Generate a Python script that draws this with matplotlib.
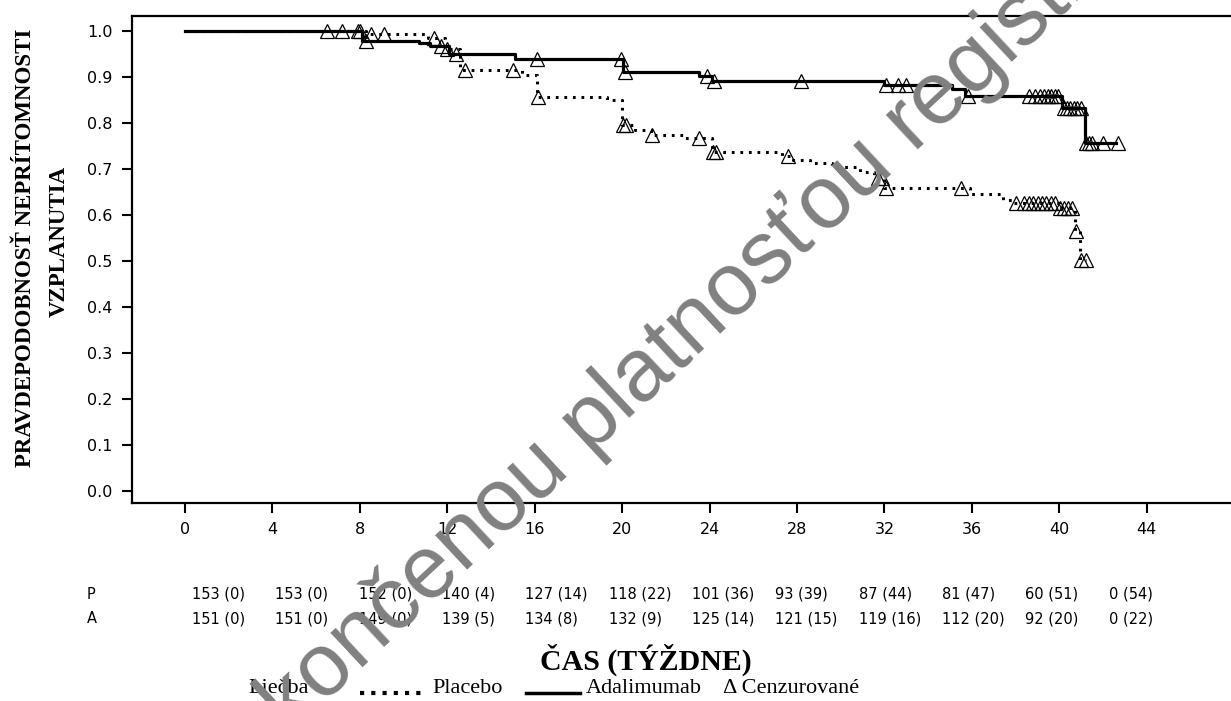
import numpy as np
import matplotlib
matplotlib.use("Agg")
import matplotlib.pyplot as plt
from matplotlib.lines import Line2D
import matplotlib.transforms as mtransforms

# Kaplan-Meier steps (weeks, survival after each step)
placebo_t = [0, 8.3, 11.1, 11.9, 12.6, 15.4, 16.1, 19.3, 20.0, 20.6, 21.3, 22.8, 24.1,
             27.3, 27.8, 28.6, 29.6, 30.9, 31.5, 32.0, 35.9, 37.4, 37.9, 40.0, 40.7, 40.95]
placebo_s = [1.0, 0.993, 0.985, 0.960, 0.915, 0.905, 0.857, 0.850, 0.796, 0.785, 0.774, 0.767, 0.738,
             0.728, 0.720, 0.712, 0.704, 0.694, 0.680, 0.659, 0.645, 0.633, 0.625, 0.615, 0.566, 0.503]
placebo_end = 41.2
placebo_cens = [6.5, 7.9, 8.5, 9.1, 11.4, 12.0, 12.8, 15.0, 16.15, 20.05, 20.2, 21.35, 23.5,
                24.15, 24.3, 27.6, 31.7, 31.9, 32.05, 35.5, 38.0, 38.4, 38.6, 38.8, 39.0,
                39.2, 39.4, 39.6, 39.8, 40.05, 40.2, 40.4, 40.6, 40.75, 41.0, 41.2]

adalimumab_t = [0, 8.1, 10.7, 11.2, 12.1, 15.1, 20.05, 23.5, 24.1, 32.0, 35.1, 35.7, 40.1, 41.15]
adalimumab_s = [1.0, 0.978, 0.973, 0.967, 0.950, 0.940, 0.911, 0.902, 0.891, 0.883, 0.873, 0.859, 0.833, 0.757]
adalimumab_end = 42.6
adalimumab_cens = [7.2, 8.0, 8.3, 11.7, 12.4, 16.1, 19.95, 20.15, 23.9, 24.2, 28.2, 32.05, 32.6,
                   33.0, 35.8, 38.6, 38.9, 39.1, 39.3, 39.5, 39.6, 39.8, 39.95, 40.2, 40.35,
                   40.5, 40.65, 40.8, 41.0, 41.2, 41.35, 41.5, 42.0, 42.7]

# number at risk (censored)
risk_p = ["153 (0)", "153 (0)", "152 (0)", "140 (4)", "127 (14)", "118 (22)",
          "101 (36)", "93 (39)", "87 (44)", "81 (47)", "60 (51)", "0 (54)"]
risk_a = ["151 (0)", "151 (0)", "149 (0)", "139 (5)", "134 (8)", "132 (9)",
          "125 (14)", "121 (15)", "119 (16)", "112 (20)", "92 (20)", "0 (22)"]

x_ticks = list(range(0, 45, 4))
y_ticks = [i / 10 for i in range(11)]


def surv_at(times, surv, t):
    idx = np.searchsorted(times, t, side="right") - 1
    return np.array(surv)[idx]


fig = plt.figure(figsize=(12.31, 7.01), dpi=100)
ax = fig.add_axes([0.1072, 0.2825, 0.8928, 0.6947])

# curves
ax.step(placebo_t + [placebo_end], placebo_s + [placebo_s[-1]], where="post",
        color="black", lw=2.2, linestyle=(0, (0.9, 1.9)), dash_capstyle="butt")
ax.step(adalimumab_t + [adalimumab_end], adalimumab_s + [adalimumab_s[-1]], where="post",
        color="black", lw=2.3)

# censored marks
ax.plot(placebo_cens, surv_at(placebo_t, placebo_s, placebo_cens), linestyle="none",
        marker="^", markersize=10, mfc="none", mec="black", mew=0.9)
ax.plot(adalimumab_cens, surv_at(adalimumab_t, adalimumab_s, adalimumab_cens), linestyle="none",
        marker="^", markersize=10, mfc="none", mec="black", mew=0.9)

ax.set_xlim(-2.42, 47.85)
ax.set_ylim(-0.026, 1.0326)
ax.set_xticks(x_ticks)
ax.set_yticks(y_ticks)
ax.set_yticklabels([f"{v:.1f}" for v in y_ticks])
ax.tick_params(axis="both", length=7, width=1.5, labelsize=11.5, color="black")
ax.tick_params(axis="x", pad=7)
ax.tick_params(axis="y", pad=7)
for side in ["left", "top", "bottom"]:
    ax.spines[side].set_linewidth(1.6)
ax.spines["right"].set_visible(False)

# y label (two lines)
serif = "Liberation Serif"
fig.text(0.021, 0.646, "PRAVDEPODOBNOSŤ NEPRÍTOMNOSTI", rotation=90, ha="center", va="center",
         fontsize=16.5, fontweight="bold", family=serif)
fig.text(0.048, 0.655, "VZPLANUTIA", rotation=90, ha="center", va="center",
         fontsize=16.5, fontweight="bold", family=serif)

# number-at-risk table
trans = mtransforms.blended_transform_factory(ax.transData, fig.transFigure)
fig.text(0.0707, 0.1526, "P", ha="left", va="center", fontsize=10.5)
fig.text(0.0707, 0.1170, "A", ha="left", va="center", fontsize=10.5)
for i, (p, a) in enumerate(zip(risk_p, risk_a)):
    xpos = 0.32 + 3.813 * i
    ax.text(xpos, 0.1526, p, transform=trans, ha="left", va="center", fontsize=10.5)
    ax.text(xpos, 0.1170, a, transform=trans, ha="left", va="center", fontsize=10.5)

# x label
fig.text(0.5248, 0.0585, "ČAS (TÝŽDNE)", ha="center", va="center",
         fontsize=21.5, fontweight="bold", family=serif)

# legend row
ly = 0.018
fig.text(248 / 1231, ly, "Liečba", ha="left", va="center", fontsize=16, family=serif)
fig.add_artist(Line2D([360 / 1231, 425 / 1231], [ly - 0.006, ly - 0.006], transform=fig.transFigure,
                      color="black", lw=3, linestyle=(0, (1, 1.7))))
fig.text(432 / 1231, ly, "Placebo", ha="left", va="center", fontsize=16, family=serif)
fig.add_artist(Line2D([526 / 1231, 580 / 1231], [ly - 0.006, ly - 0.006], transform=fig.transFigure,
                      color="black", lw=2.5))
fig.text(586 / 1231, ly, "Adalimumab", ha="left", va="center", fontsize=16, family=serif)
fig.text(723 / 1231, ly, "Δ Cenzurované", ha="left", va="center", fontsize=16, family=serif)

# watermark
fig.text(290 / 1231, -0.0485, "končenou platnosťou registrácie", rotation=43,
         rotation_mode="anchor", ha="left", va="baseline", fontsize=64,
         family="Liberation Sans", color="#808080", zorder=10)

fig.savefig("out.png", dpi=100)
